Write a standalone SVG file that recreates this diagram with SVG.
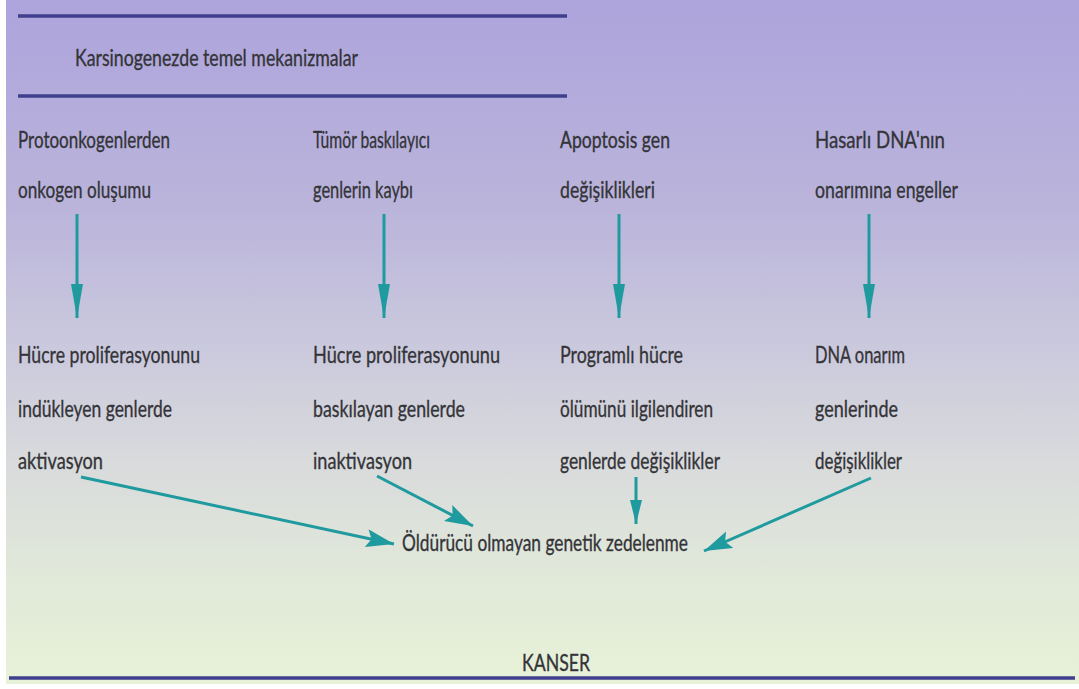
<svg xmlns="http://www.w3.org/2000/svg" width="1079" height="689" viewBox="0 0 1079 689">
<defs>
<linearGradient id="bg" x1="0" y1="0" x2="0" y2="1">
<stop offset="0" stop-color="#ada4dc"/>
<stop offset="0.3" stop-color="#bab4db"/>
<stop offset="0.5" stop-color="#cac8dd"/>
<stop offset="0.68" stop-color="#d9dbdc"/>
<stop offset="0.85" stop-color="#e1e9d9"/>
<stop offset="1" stop-color="#e8f2d8"/>
</linearGradient>
<marker id="headV" markerUnits="userSpaceOnUse" markerWidth="36" markerHeight="14" refX="34" refY="6" orient="auto">
<path d="M0,0 L34,6 L0,12 z" fill="#1f9a9e"/>
</marker>
<marker id="headS" markerUnits="userSpaceOnUse" markerWidth="26" markerHeight="14" refX="24" refY="6" orient="auto">
<path d="M0,0 L24,6 L0,12 z" fill="#1f9a9e"/>
</marker>
<marker id="headD" markerUnits="userSpaceOnUse" markerWidth="30" markerHeight="20" refX="28" refY="9" orient="auto">
<path d="M0,0 L28,9 L0,18 L5,9 z" fill="#1f9a9e"/>
</marker>
</defs>
<style>
text{font-family:Lato,"Open Sans","Liberation Sans",sans-serif;font-size:23.5px;fill:#343438;stroke:#343438;stroke-width:0.35px;}
.rule{stroke:#3f3f8e;stroke-width:3.5;}
.arr{stroke:#1f9a9e;stroke-width:3;fill:none;}
</style>
<rect x="0" y="0" width="1079" height="689" fill="#ffffff"/>
<rect x="6" y="0" width="1073" height="684" fill="url(#bg)"/>

<g id="header">
<line class="rule" x1="18" y1="16" x2="567" y2="16"/>
<text x="75" y="66" textLength="283" lengthAdjust="spacingAndGlyphs">Karsinogenezde temel mekanizmalar</text>
<line class="rule" x1="18" y1="96" x2="567" y2="96"/>
</g>

<g id="n1a"><text x="18" y="148" textLength="152" lengthAdjust="spacingAndGlyphs">Protoonkogenlerden</text>
<text x="18" y="198" textLength="133" lengthAdjust="spacingAndGlyphs">onkogen oluşumu</text></g>
<g id="n2a"><text x="313" y="148" textLength="117" lengthAdjust="spacingAndGlyphs">Tümör baskılayıcı</text>
<text x="313" y="198" textLength="100" lengthAdjust="spacingAndGlyphs">genlerin kaybı</text></g>
<g id="n3a"><text x="560" y="148" textLength="110" lengthAdjust="spacingAndGlyphs">Apoptosis gen</text>
<text x="560" y="198" textLength="95" lengthAdjust="spacingAndGlyphs">değişiklikleri</text></g>
<g id="n4a"><text x="815" y="148" textLength="130" lengthAdjust="spacingAndGlyphs">Hasarlı DNA'nın</text>
<text x="815" y="198" textLength="143" lengthAdjust="spacingAndGlyphs">onarımına engeller</text></g>

<g id="n1b"><text x="18" y="363" textLength="182" lengthAdjust="spacingAndGlyphs">Hücre proliferasyonunu</text>
<text x="18" y="417" textLength="154" lengthAdjust="spacingAndGlyphs">indükleyen genlerde</text>
<text x="18" y="469" textLength="85" lengthAdjust="spacingAndGlyphs">aktivasyon</text></g>
<g id="n2b"><text x="313" y="363" textLength="187" lengthAdjust="spacingAndGlyphs">Hücre proliferasyonunu</text>
<text x="313" y="417" textLength="152" lengthAdjust="spacingAndGlyphs">baskılayan genlerde</text>
<text x="313" y="469" textLength="99" lengthAdjust="spacingAndGlyphs">inaktivasyon</text></g>
<g id="n3b"><text x="560" y="363" textLength="123" lengthAdjust="spacingAndGlyphs">Programlı hücre</text>
<text x="560" y="417" textLength="153" lengthAdjust="spacingAndGlyphs">ölümünü ilgilendiren</text>
<text x="560" y="469" textLength="160" lengthAdjust="spacingAndGlyphs">genlerde değişiklikler</text></g>
<g id="n4b"><text x="815" y="363" textLength="90" lengthAdjust="spacingAndGlyphs">DNA onarım</text>
<text x="815" y="417" textLength="83" lengthAdjust="spacingAndGlyphs">genlerinde</text>
<text x="815" y="469" textLength="87" lengthAdjust="spacingAndGlyphs">değişiklikler</text></g>

<g id="damage"><text x="402" y="551" textLength="286" lengthAdjust="spacingAndGlyphs">Öldürücü olmayan genetik zedelenme</text></g>
<g id="cancer"><text x="522" y="671" textLength="68" lengthAdjust="spacingAndGlyphs">KANSER</text></g>
<line class="rule" x1="9" y1="678" x2="1075" y2="678" stroke-width="4.5" stroke="#4a4c8e"/>

<g id="connectors">
<line class="arr" x1="77" y1="214" x2="77" y2="318" marker-end="url(#headV)"/>
<line class="arr" x1="384" y1="214" x2="384" y2="318" marker-end="url(#headV)"/>
<line class="arr" x1="619" y1="214" x2="619" y2="318" marker-end="url(#headV)"/>
<line class="arr" x1="869" y1="214" x2="869" y2="318" marker-end="url(#headV)"/>
<line class="arr" x1="81" y1="477" x2="394" y2="544" marker-end="url(#headD)"/>
<line class="arr" x1="377" y1="476" x2="473" y2="526" marker-end="url(#headD)"/>
<line class="arr" x1="636" y1="477" x2="636" y2="524" marker-end="url(#headS)"/>
<line class="arr" x1="871" y1="478" x2="704" y2="551" marker-end="url(#headD)"/>
</g>
</svg>
